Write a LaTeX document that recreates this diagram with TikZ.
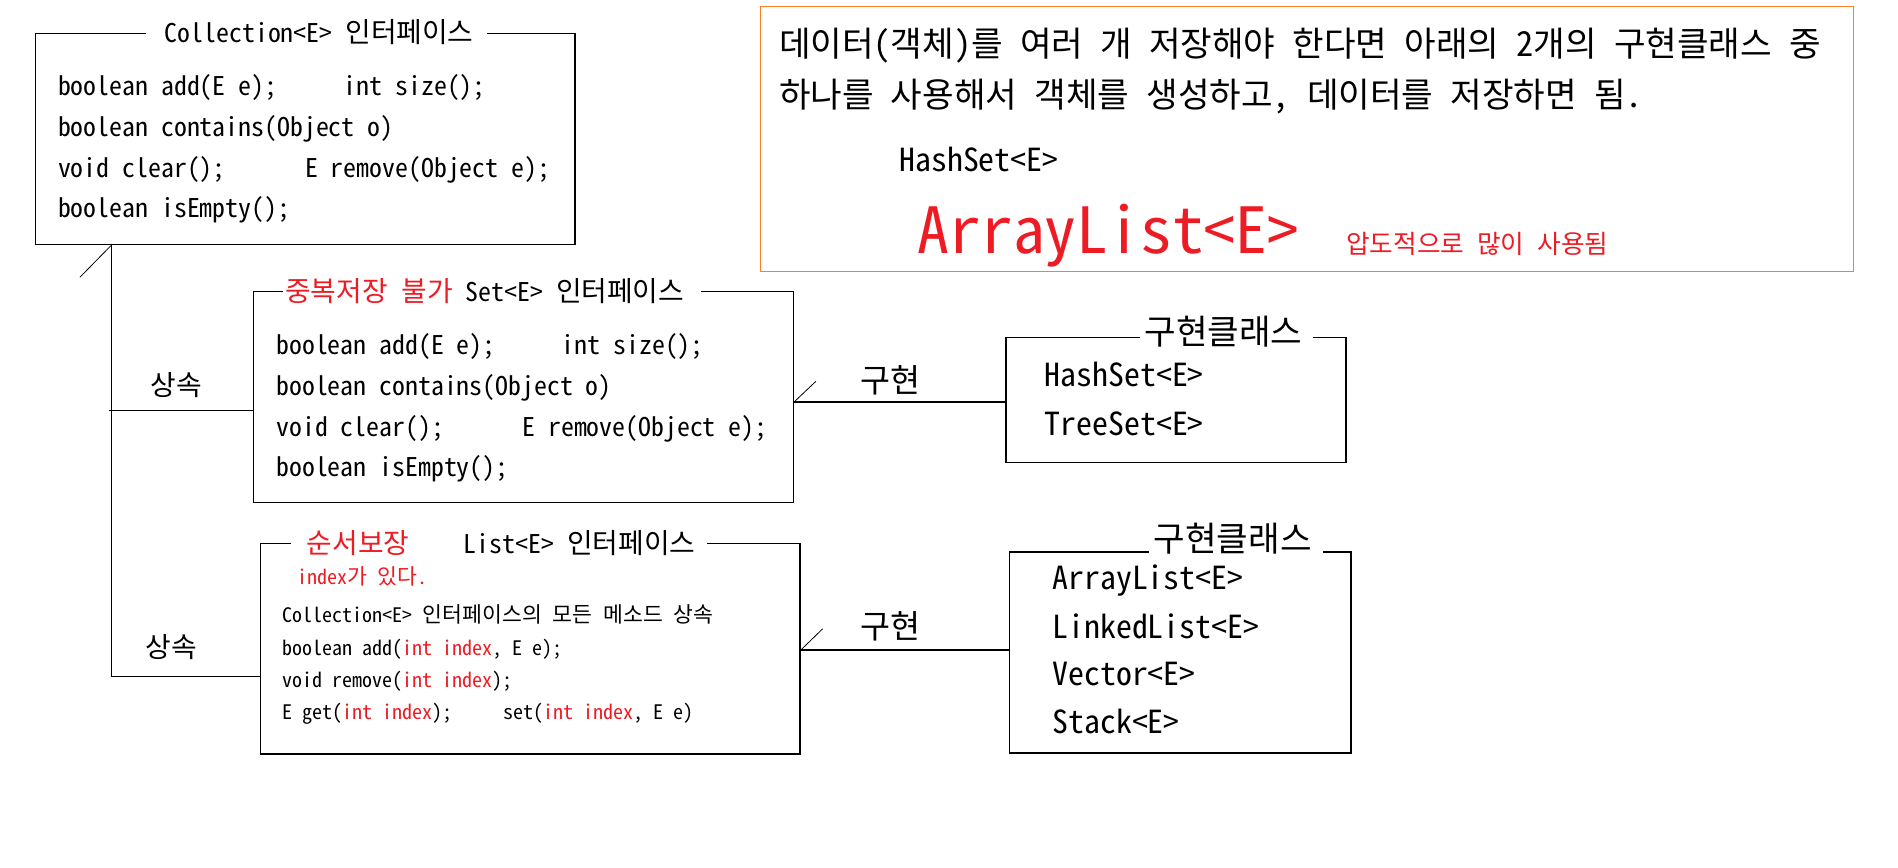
\documentclass[tikz,border=0pt]{standalone}
\usepackage{fontspec}
\setmainfont{Noto Sans CJK KR}[RawFeature=+hwid]
\newfontfamily\hgfont{Noto Sans CJK KR}[RawFeature=+hwid, Scale=1.08]
\usetikzlibrary{fit}
\definecolor{cred}{HTML}{ED1C24}
\definecolor{corange}{HTML}{FF7F27}
\newlength\pxl
\setlength\pxl{0.6053pt}
\newcommand\fbody{\fontsize{12.9pt}{15pt}\selectfont}
\newcommand\flist{\fontsize{10pt}{12pt}\selectfont}
\newcommand\fimpl{\fontsize{15.9pt}{18pt}\selectfont}
\newcommand\fgu{\fontsize{15.1pt}{18pt}\selectfont}
\newcommand\fbig{\fontsize{31.8pt}{36pt}\selectfont}
\newcommand\fnote{\fontsize{11.9pt}{14pt}\selectfont}
\newcommand\rd[1]{\textcolor{cred}{#1}}
\newcommand\hg[1]{{\hgfont #1}}

\begin{document}
\begin{tikzpicture}[x=0.6053pt, y=-0.6053pt, line width=0.7pt,
    box/.style={draw, inner sep=0pt},
    txt/.style={anchor=west, inner sep=0pt},
    tbody/.style={txt, font=\fbody, text height=12.1pt, text depth=2.6pt},
    tlist/.style={txt, font=\flist, text height=9.4pt, text depth=2pt},
    timpl/.style={txt, font=\fimpl, text height=14.9pt, text depth=3.2pt},
    tgu/.style={txt, font=\fgu, text height=14.2pt, text depth=3pt},
    tbig/.style={txt, font=\fbig, text height=29.9pt, text depth=6.4pt},
    tnote/.style={txt, font=\fnote, text height=11.2pt, text depth=2.4pt},
    ttl/.style={fill=white},
    thinline/.style={line width=0.4pt}]
  \useasboundingbox (0,0) rectangle (1568,717);

  % Collection interface
  \node[box, fit={(29.5,27.5) (475,202)}] (coll) {};
  \node[tbody, ttl] (coll-t) at (120,27.5) {\hspace*{15.6\pxl}Collection<E> \hg{인터페이스}\hspace*{11\pxl}};
  \node[tbody] (coll-1) at (47.4,71) {boolean add(E e);};
  \node[tbody] (coll-1b) at (283.5,71) {int size();};
  \node[tbody] (coll-2) at (47.4,105) {boolean contains(Object o)};
  \node[tbody] (coll-3) at (47.4,139) {void clear();};
  \node[tbody] (coll-3b) at (251.5,139) {E remove(Object e);};
  \node[tbody] (coll-4) at (47.4,172) {boolean isEmpty();};

  % Set interface
  \node[box, fit={(209.6,241) (655.5,415)}] (set) {};
  \node[tbody, ttl] (set-t) at (233,241) {\hspace*{2\pxl}\rd{\hg{중복저장 불가}} Set<E> \hg{인터페이스}\hspace*{14\pxl}};
  \node[tbody] (set-1) at (227.7,285) {boolean add(E e);};
  \node[tbody] (set-1b) at (463.6,285) {int size();};
  \node[tbody] (set-2) at (227.7,319) {boolean contains(Object o)};
  \node[tbody] (set-3) at (227.7,352.5) {void clear();};
  \node[tbody] (set-3b) at (431,352.5) {E remove(Object e);};
  \node[tbody] (set-4) at (227.7,385.5) {boolean isEmpty();};

  % List interface
  \node[box, fit={(215,449) (661,623)}] (lst) {};
  \node[tbody, ttl] (lst-t) at (240,449) {\hspace*{13\pxl}\rd{\hg{순서보장}}\hspace*{45\pxl}List<E> \hg{인터페이스}\hspace*{10\pxl}};
  \node[tlist, text=cred] (lst-0) at (245,477) {index\hg{가 있다}.};
  \node[tlist] (lst-1) at (233,508) {Collection<E> \hg{인터페이스의 모든 메소드 상속}};
  \node[tlist] (lst-2) at (233,535.5) {boolean add(\rd{int index}, E e);};
  \node[tlist] (lst-3) at (233,562) {void remove(\rd{int index});};
  \node[tlist] (lst-4) at (233,588) {E get(\rd{int index});};
  \node[tlist] (lst-4b) at (415,588) {set(\rd{int index}, E e)};

  % implementing classes
  \node[box, fit={(831,279) (1112,382)}] (imp1) {};
  \node[timpl, ttl] (imp1-t) at (941.5,275) {\hspace*{3.5\pxl}\hg{구현클래스}\hspace*{9\pxl}};
  \node[timpl] (imp1-1) at (862.6,310) {HashSet<E>};
  \node[timpl] (imp1-2) at (862.6,350) {TreeSet<E>};

  \node[box, fit={(834,456) (1116,622)}] (imp2) {};
  \node[timpl, ttl] (imp2-t) at (949,446) {\hspace*{3.5\pxl}\hg{구현클래스}\hspace*{9\pxl}};
  \node[timpl] (imp2-1) at (869,477) {ArrayList<E>};
  \node[timpl] (imp2-2) at (869,518) {LinkedList<E>};
  \node[timpl] (imp2-3) at (869,557) {Vector<E>};
  \node[timpl] (imp2-4) at (869,596) {Stack<E>};

  % inheritance lines
  \coordinate (k1) at (90,339);
  \coordinate (k2) at (92,559);
  \draw (coll.south -| k2) -- (k2) -- (k2 -| lst.west);
  \draw (k1) -- (k1 -| set.west);
  \draw[thinline] (coll.south -| k2) -- ++(-26,26.5);
  \node[tbody] (inh1) at (124,319) {\hg{상속}};
  \node[tbody] (inh2) at (120,535) {\hg{상속}};

  % implementation lines
  \coordinate (m1) at (0,332);
  \coordinate (m2) at (0,537);
  \draw (m1 -| set.east) -- (m1 -| imp1.west);
  \draw[thinline] (m1 -| set.east) -- ++(18,-17);
  \draw (m2 -| lst.east) -- (m2 -| imp2.west);
  \draw[thinline] (m2 -| lst.east) -- ++(18,-17.5);
  \node[tgu] (gu1) at (710,315) {\hg{구현}};
  \node[tgu] (gu2) at (710,518) {\hg{구현}};

  % note box
  \node[box, draw=corange, line width=0.5pt, fit={(628,5) (1531,224.5)}] (note) {};
  \node[timpl] (note-1) at (643,37) {\hg{데이터(객체)를 여러 개 저장해야 한다면 아래의 2개의 구현클래스 중}};
  \node[timpl] (note-2) at (643,79) {\hg{하나를 사용해서 객체를 생성하고, 데이터를 저장하면 됨.}};
  \node[timpl] (note-3) at (742.5,131.7) {HashSet<E>};
  \node[tbig, text=cred] (note-4) at (757.6,190) {ArrayList<E>};
  \node[tnote, text=cred] (note-5) at (1111.6,202) {\hg{압도적으로 많이 사용됨}};
\end{tikzpicture}
\end{document}
